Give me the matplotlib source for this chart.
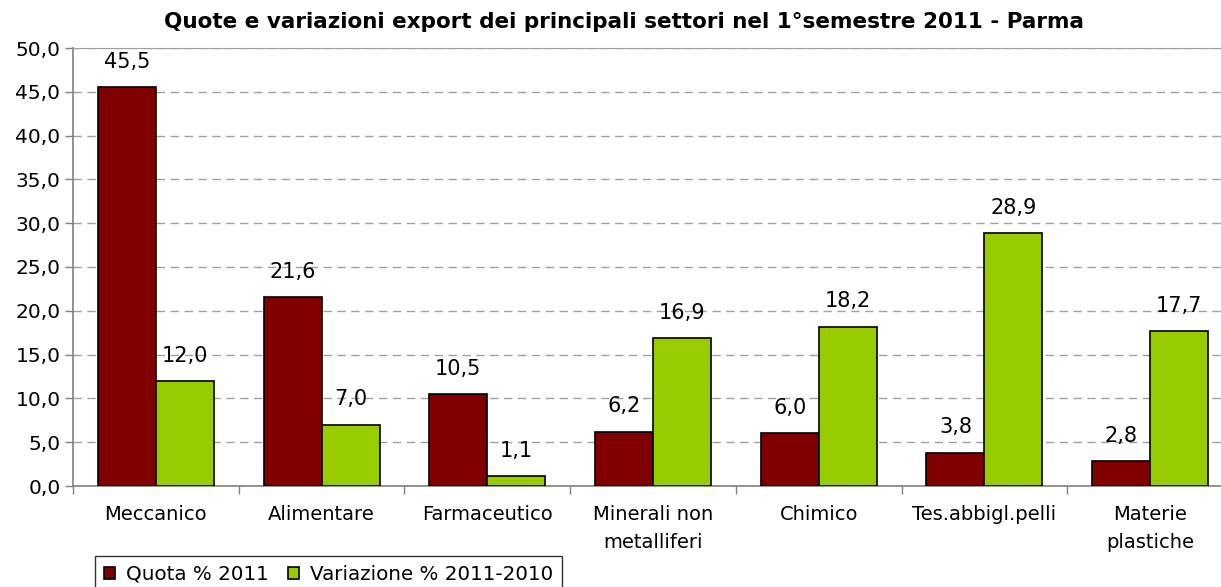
import matplotlib
matplotlib.use("Agg")
import matplotlib.pyplot as plt
import numpy as np
from matplotlib.ticker import FuncFormatter, MultipleLocator

categories = ["Meccanico", "Alimentare", "Farmaceutico", "Minerali non\nmetalliferi",
              "Chimico", "Tes.abbigl.pelli", "Materie\nplastiche"]
quota = [45.5, 21.6, 10.5, 6.2, 6.0, 3.8, 2.8]
variazione = [12.0, 7.0, 1.1, 16.9, 18.2, 28.9, 17.7]
series_names = ["Quota % 2011", "Variazione % 2011-2010"]
title = "Quote e variazioni export dei principali settori nel 1°semestre 2011 - Parma"

plt.rcParams['font.family'] = ['DejaVu Sans']

W, H = 1221, 587
fig = plt.figure(figsize=(W/100, H/100), dpi=100)
left, right, top, bottom = 73, 1233, 48, 486
ax = fig.add_axes([left/W, 1 - bottom/H, (right-left)/W, (bottom-top)/H])

x = np.arange(len(categories))
bw = 0.35
red = "#800000"
green = "#99CC00"
b1 = ax.bar(x - bw/2, quota, bw, color=red, edgecolor="black", linewidth=1.2, label=series_names[0], zorder=3)
b2 = ax.bar(x + bw/2, variazione, bw, color=green, edgecolor="black", linewidth=1.2, label=series_names[1], zorder=3)

fmt = lambda v: f"{v:.1f}".replace(".", ",")
for bars, vals in ((b1, quota), (b2, variazione)):
    for r, v in zip(bars, vals):
        ax.annotate(fmt(v), (r.get_x() + r.get_width()/2, v), xytext=(0, 11),
                    textcoords="offset points", ha="center", va="bottom", fontsize=15)

ax.set_ylim(0, 50)
ax.set_xlim(-0.5, len(categories) - 0.5)
ax.yaxis.set_major_locator(MultipleLocator(5))
ax.yaxis.set_major_formatter(FuncFormatter(lambda v, p: fmt(v)))
ax.grid(axis="y", color="#A0A0A0", linestyle=(0, (6, 4)), linewidth=1, zorder=0)

ax.set_xticks(x)
ax.set_xticklabels(categories, fontsize=14, linespacing=1.6)
ax.set_xticks(np.arange(len(categories) + 1) - 0.5, minor=True)
ax.tick_params(axis="x", which="major", length=0, pad=14)
ax.tick_params(axis="x", which="minor", length=6, width=1, color="#808080")
ax.tick_params(axis="y", length=6, width=1, color="#808080", labelsize=14.5, pad=3)

for s in ("left", "bottom"):
    ax.spines[s].set_color("#808080")
    ax.spines[s].set_linewidth(1.2)
ax.spines["top"].set_color("#A0A0A0")
ax.spines["right"].set_visible(False)

fig.text(624/W, 1 - 22/H, title, ha="center", va="center", fontsize=15.5, fontweight="bold")

leg = fig.legend(handles=[b1, b2], loc="upper left", bbox_to_anchor=(95/W, 1 - 556/H),
                 ncol=2, frameon=True, fancybox=False, edgecolor="black", fontsize=14.3,
                 handlelength=0.55, handleheight=0.6, handletextpad=0.55, columnspacing=1.0,
                 borderpad=0.45, borderaxespad=0)
leg.get_frame().set_linewidth(1)

fig.savefig("out.png", dpi=100)
